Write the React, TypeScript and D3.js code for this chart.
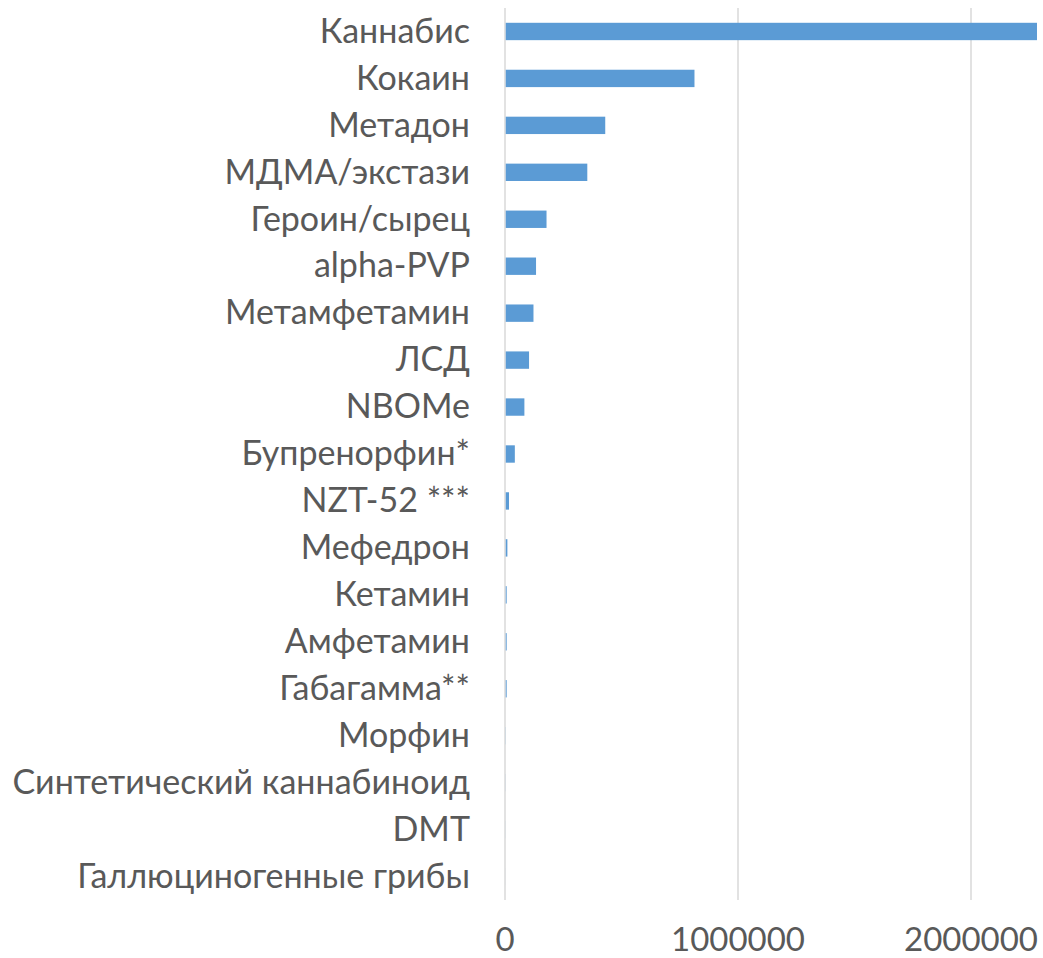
import * as d3 from "d3";
import { useEffect, useRef } from "react";

const categories = [
  "Каннабис",
  "Кокаин",
  "Метадон",
  "МДМА/экстази",
  "Героин/сырец",
  "alpha-PVP",
  "Метамфетамин",
  "ЛСД",
  "NBOMe",
  "Бупренорфин*",
  "NZT-52 ***",
  "Мефедрон",
  "Кетамин",
  "Амфетамин",
  "Габагамма**",
  "Морфин",
  "Синтетический каннабиноид",
  "DMT",
  "Галлюциногенные грибы",
];

const values = [
  2280000, 810000, 427000, 350000, 175000, 130000, 119000, 100000, 80000,
  39000, 14000, 7000, 4000, 4000, 4000, 500, 300, 200, 100,
];

const xTicks = [0, 1000000, 2000000];

export default function App() {
  const ref = useRef<SVGSVGElement>(null);

  useEffect(() => {
    if (!ref.current) return;
    const svg = d3.select(ref.current);
    svg.selectAll("*").remove();

    const height = 958,
      margin = { top: 8, bottom: 58, left: 505 };

    const x = d3
      .scaleLinear()
      .domain([0, 2000000])
      .range([margin.left, 971]);

    const y = d3
      .scaleBand()
      .domain(categories)
      .range([margin.top, height - margin.bottom])
      .paddingInner(0.63)
      .paddingOuter(0.315);

    const font = "Lato, 'Open Sans', sans-serif";

    // Grid lines
    svg
      .append("g")
      .selectAll("line")
      .data(xTicks)
      .enter()
      .append("line")
      .attr("x1", (d) => x(d))
      .attr("x2", (d) => x(d))
      .attr("y1", margin.top)
      .attr("y2", height - margin.bottom)
      .attr("stroke", "#d9d9d9")
      .attr("stroke-width", 1.5);

    // Bars
    svg
      .append("g")
      .selectAll("rect")
      .data(values)
      .enter()
      .append("rect")
      .attr("x", x(0) + 0.75)
      .attr("y", (d, i) => y(categories[i])!)
      .attr("width", (d) => Math.max(0, x(d) - x(0)))
      .attr("height", y.bandwidth())
      .attr("fill", "#5b9bd5");

    // Category labels
    svg
      .append("g")
      .selectAll("text")
      .data(categories)
      .enter()
      .append("text")
      .attr("x", 470)
      .attr("y", (d) => y(d)! + y.bandwidth() / 2 - 1)
      .attr("dy", "0.36em")
      .attr("text-anchor", "end")
      .attr("fill", "#595959")
      .attr("font-family", font)
      .attr("font-size", "34px")
      .text((d) => d);

    // X tick labels
    svg
      .append("g")
      .selectAll("text")
      .data(xTicks)
      .enter()
      .append("text")
      .attr("x", (d) => x(d))
      .attr("y", 951)
      .attr("text-anchor", "middle")
      .attr("fill", "#595959")
      .attr("font-family", font)
      .attr("font-size", "33px")
      .text((d) => String(d));
  }, []);

  return (
    <svg
      ref={ref}
      width={1043}
      height={958}
      style={{ position: "absolute", left: 0, top: 0, background: "#fff" }}
    />
  );
}
